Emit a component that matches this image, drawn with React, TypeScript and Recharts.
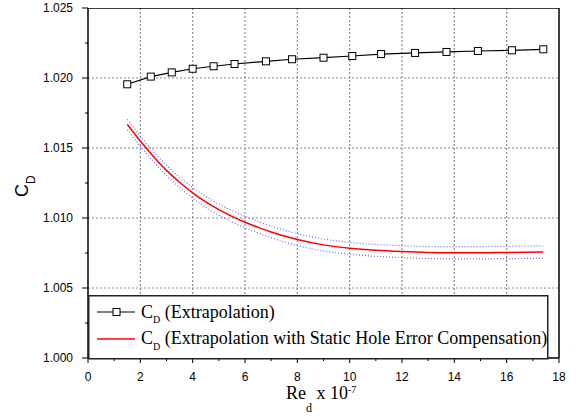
import React from "react";
import { ComposedChart, Line, XAxis, YAxis } from "recharts";

// C_D by extrapolation (squares)
const extrapRe = [1.5, 2.4, 3.2, 4.0, 4.8, 5.6, 6.8, 7.8, 9.0, 10.1, 11.2, 12.5, 13.7, 14.9, 16.2, 17.4];
const extrapCd = [
  1.01955, 1.0201, 1.0204, 1.02066, 1.02084, 1.021, 1.02119, 1.02134, 1.02145, 1.02157, 1.02171,
  1.02179, 1.02186, 1.02193, 1.02198, 1.02205,
];

// C_D with static hole error compensation (red) and its band (blue dotted)
const compRe = [1.5, 2, 2.5, 3, 3.5, 4, 4.5, 5, 5.5, 6, 6.5, 7, 7.5, 8, 9, 10, 11, 12, 13, 14, 15, 16, 17.4];
const compCd = [
  1.0167, 1.0155, 1.0144, 1.0134, 1.01255, 1.0118, 1.01115, 1.0106, 1.01012, 1.0097, 1.00933,
  1.009, 1.00871, 1.00846, 1.00808, 1.00784, 1.00769, 1.0076, 1.00754, 1.00752, 1.00752, 1.00754,
  1.00757,
];
const compUpper = [
  1.01705, 1.01586, 1.01476, 1.01377, 1.01292, 1.01218, 1.01154, 1.011, 1.01053, 1.01012, 1.00975,
  1.00942, 1.00913, 1.00888, 1.0085, 1.00826, 1.00811, 1.00802, 1.00797, 1.00795, 1.00796,
  1.00798, 1.00802,
];
const compLower = [
  1.0163, 1.01512, 1.01403, 1.01303, 1.01217, 1.01142, 1.01076, 1.0102, 1.00972, 1.00931, 1.00893,
  1.00859, 1.00829, 1.00803, 1.00765, 1.00741, 1.00726, 1.00717, 1.00711, 1.00708, 1.00708,
  1.0071, 1.00712,
];

const xTicks = [0, 1, 2, 3, 4, 5, 6, 7, 8, 9, 10, 11, 12, 13, 14, 15, 16, 17, 18];
const yTicks = [1.0, 1.0025, 1.005, 1.0075, 1.01, 1.0125, 1.015, 1.0175, 1.02, 1.0225, 1.025];
const xGrid = [2, 4, 6, 8, 10, 12, 14, 16];
const yGrid = [1.005, 1.01, 1.015, 1.02];

const X_MIN = 0;
const X_MAX = 18;
const Y_MIN = 1.0;
const Y_MAX = 1.025;

const extrapData = extrapRe.map((x, i) => ({ x, cd: extrapCd[i] }));
const compData = compRe.map((x, i) => ({
  x,
  cd: compCd[i],
  hi: compUpper[i],
  lo: compLower[i],
}));
// dotted grid and the top/right frame drawn as two-point series through the axis scales
const vGridData = xGrid.map((v) => [
  { x: v, g: Y_MIN },
  { x: v, g: Y_MAX },
]);
const hGridData = yGrid.map((v) => [
  { x: X_MIN, g: v },
  { x: X_MAX, g: v },
]);
const frameData = [
  { x: X_MIN, g: Y_MAX },
  { x: X_MAX, g: Y_MAX },
  { x: X_MAX, g: Y_MIN },
];

const SANS = "Arial, 'Liberation Sans', sans-serif";
const SERIF = "'Times New Roman', 'Liberation Serif', serif";

function XTick({ x, y, payload }: any) {
  const major = payload.value % 2 === 0;
  return (
    <g>
      <line x1={x} y1={y} x2={x} y2={y + (major ? 5 : 3)} stroke="#000" strokeWidth={1} />
      {major && (
        <text x={x} y={y + 23} textAnchor="middle" fontFamily={SANS} fontSize={12} fill="#000">
          {payload.value}
        </text>
      )}
    </g>
  );
}

function YTick({ x, y, payload }: any) {
  const major = Math.round(payload.value * 10000) % 50 === 0;
  return (
    <g>
      <line x1={x} y1={y} x2={x - (major ? 6 : 3)} y2={y} stroke="#000" strokeWidth={1} />
      {major && (
        <text x={x - 15} y={y + 4} textAnchor="end" fontFamily={SANS} fontSize={12} fill="#000">
          {payload.value.toFixed(3)}
        </text>
      )}
    </g>
  );
}

function SquareDot({ cx, cy }: any) {
  if (cx == null || cy == null) return null;
  return <rect x={cx - 3.5} y={cy - 3.5} width={7} height={7} fill="#fff" stroke="#000" strokeWidth={1} />;
}

function LegendBox() {
  return (
    <svg width={461} height={65} style={{ position: "absolute", left: 88, top: 295 }}>
      <rect x={0.75} y={0.75} width={459} height={63} fill="#fff" stroke="#222" strokeWidth={1.5} />
      <line x1={9} y1={17} x2={47} y2={17} stroke="#000" strokeWidth={1.2} />
      <rect x={25} y={13.5} width={7} height={7} fill="#fff" stroke="#000" strokeWidth={1} />
      <text x={53} y={22.5} fontFamily={SERIF} fontSize={18} fill="#000">
        C<tspan fontSize={10} dy={5.5}>D</tspan>
        <tspan dy={-5.5}> (Extrapolation)</tspan>
      </text>
      <line x1={9} y1={44} x2={47} y2={44} stroke="#ff0000" strokeWidth={1.5} />
      <text x={53} y={49} fontFamily={SERIF} fontSize={18} fill="#000">
        C<tspan fontSize={10} dy={5.5}>D</tspan>
        <tspan dy={-5.5}> (Extrapolation with Static Hole Error Compensation)</tspan>
      </text>
    </svg>
  );
}

const gridLineProps = {
  type: "linear" as const,
  stroke: "#8a8a8a",
  strokeWidth: 1.2,
  strokeDasharray: "2 2",
  dot: false,
  activeDot: false,
  isAnimationActive: false,
};

export default function App() {
  return (
    <div style={{ position: "absolute", left: 0, top: 0, width: 576, height: 416, background: "#fff" }}>
      <ComposedChart width={576} height={416} margin={{ top: 8, right: 17, bottom: 0, left: 0 }}>
        <XAxis
          dataKey="x"
          type="number"
          domain={[X_MIN, X_MAX]}
          ticks={xTicks}
          interval={0}
          height={58}
          tickSize={0}
          tickMargin={0}
          tick={<XTick />}
          axisLine={{ stroke: "#000", strokeWidth: 1.5 }}
          allowDuplicatedCategory={false}
        />
        <YAxis
          type="number"
          domain={[Y_MIN, Y_MAX]}
          ticks={yTicks}
          interval={0}
          width={88}
          tickSize={0}
          tickMargin={0}
          tick={<YTick />}
          axisLine={{ stroke: "#000", strokeWidth: 1.5 }}
          allowDataOverflow
        />
        {vGridData.map((d, i) => (
          <Line key={"vg" + i} data={d} dataKey="g" {...gridLineProps} />
        ))}
        {hGridData.map((d, i) => (
          <Line key={"hg" + i} data={d} dataKey="g" {...gridLineProps} />
        ))}
        <Line
          data={frameData}
          dataKey="g"
          type="linear"
          stroke="#000"
          strokeWidth={1.5}
          dot={false}
          activeDot={false}
          isAnimationActive={false}
        />
        <Line
          data={compData}
          dataKey="hi"
          type="monotone"
          stroke="#6b6bff"
          strokeWidth={1.2}
          strokeDasharray="1 2"
          dot={false}
          isAnimationActive={false}
        />
        <Line
          data={compData}
          dataKey="lo"
          type="monotone"
          stroke="#6b6bff"
          strokeWidth={1.2}
          strokeDasharray="1 2"
          dot={false}
          isAnimationActive={false}
        />
        <Line
          data={compData}
          dataKey="cd"
          type="monotone"
          stroke="#ff0000"
          strokeWidth={1.5}
          dot={false}
          isAnimationActive={false}
        />
        <Line
          data={extrapData}
          dataKey="cd"
          type="linear"
          stroke="#000"
          strokeWidth={1.2}
          dot={<SquareDot />}
          isAnimationActive={false}
        />
        <text x={28} y={197} transform="rotate(-90, 28, 197)" fontFamily={SANS} fontSize={18} fill="#000">
          C<tspan fontSize={12} dy={7}>D</tspan>
        </text>
        <text x={286} y={399} fontFamily={SERIF} fontSize={18} fill="#000">
          Re<tspan fontSize={12} dy={13}>d</tspan>
          <tspan dy={-13}> x 10</tspan>
          <tspan fontSize={10} dy={-6}>-7</tspan>
        </text>
      </ComposedChart>
      <LegendBox />
    </div>
  );
}
